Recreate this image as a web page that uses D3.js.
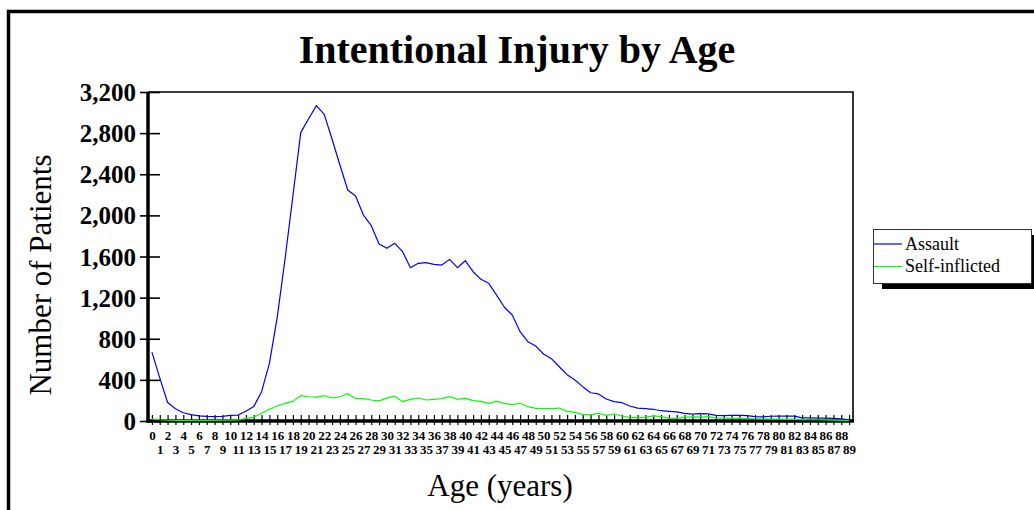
<!DOCTYPE html>
<html>
<head>
<meta charset="utf-8">
<script src="https://cdn.jsdelivr.net/npm/d3@7"></script>
<style>
  html, body { margin: 0; padding: 0; background: #fff; }
  svg { display: block; }
  text { font-family: "Liberation Serif", "Times New Roman", serif; fill: #000; }
</style>
</head>
<body>
<svg id="chart" width="1034" height="510"></svg>
<script>
// Age categories (years)
const ages = [0,1,2,3,4,5,6,7,8,9,10,11,12,13,14,15,16,17,18,19,20,21,22,23,24,25,26,27,28,29,
  30,31,32,33,34,35,36,37,38,39,40,41,42,43,44,45,46,47,48,49,50,51,52,53,54,55,56,57,58,59,
  60,61,62,63,64,65,66,67,68,69,70,71,72,73,74,75,76,77,78,79,80,81,82,83,84,85,86,87,88,89];

// Number of patients per age
const assault = [670,420,180,120,80,62,50,45,42,45,55,58,95,140,285,560,1010,1580,2190,2805,
  2940,3067,2983,2740,2490,2247,2188,2003,1900,1722,1680,1728,1647,1491,1534,1540,1524,1517,1572,1491,
  1559,1452,1378,1339,1225,1106,1031,869,771,729,652,606,528,451,399,334,275,263,214,188,
  178,146,126,120,114,100,94,88,75,66,72,70,55,52,54,55,52,42,40,46,
  48,48,47,30,30,28,27,25,20,12];

const selfInflicted = [20,12,8,7,6,6,6,6,7,8,9,10,26,36,75,114,146,172,191,246,
  236,233,246,224,236,266,217,217,204,196,222,243,188,211,224,204,211,217,237,211,
  220,198,191,172,191,172,159,172,139,123,120,120,126,94,84,62,62,75,55,68,
  49,32,32,36,49,42,26,26,35,40,38,42,30,28,25,25,24,22,20,18,
  18,16,16,14,12,12,10,8,6,4];

const yTicks = [0,400,800,1200,1600,2000,2400,2800,3200];
const seriesNames = ["Assault", "Self-inflicted"];
const seriesColors = ["#0000ff", "#00ff00"];

const svg = d3.select("#chart");
const W = 1034, H = 510;
const plot = { left: 148, right: 853, top: 92, bottom: 421 };

svg.append("rect").attr("width", W).attr("height", H).attr("fill", "#fff");

// outer frame
svg.append("rect")
  .attr("x", 8.5).attr("y", 11.5)
  .attr("width", 1200).attr("height", 700)
  .attr("fill", "none").attr("stroke", "#000").attr("stroke-width", 3.5);

// title
svg.append("text")
  .attr("x", 517).attr("y", 63)
  .attr("text-anchor", "middle")
  .style("font-size", "40px").style("font-weight", "bold")
  .text("Intentional Injury by Age");

const x = d3.scalePoint().domain(ages).range([plot.left, plot.right]).padding(0.5);
const y = d3.scaleLinear().domain([0, 3200]).range([plot.bottom, plot.top]);

// plot frame (top and right)
svg.append("path")
  .attr("d", `M${plot.left},${plot.top}H${plot.right}V${plot.bottom}`)
  .attr("fill", "none").attr("stroke", "#000").attr("stroke-width", 1.6);

// y axis
const yAxis = svg.append("g")
  .attr("transform", `translate(${plot.left},0)`)
  .call(d3.axisLeft(y).tickValues(yTicks).tickFormat(d3.format(",")).tickSizeOuter(0));
yAxis.select(".domain").remove();
yAxis.selectAll(".tick line").attr("x1", 12).attr("x2", -8).attr("stroke", "#000").attr("stroke-width", 1.6);
yAxis.selectAll(".tick text")
  .attr("x", -12).attr("dy", "0.34em")
  .style("font-family", "'Liberation Serif', serif")
  .style("font-size", "25px").style("font-weight", "bold").attr("fill", "#000");
svg.append("line")
  .attr("x1", plot.left).attr("x2", plot.left)
  .attr("y1", plot.top).attr("y2", plot.bottom + 1.5)
  .attr("stroke", "#000").attr("stroke-width", 3.5);

// x axis
const xAxis = svg.append("g")
  .attr("transform", `translate(0,${plot.bottom})`)
  .call(d3.axisBottom(x).tickSizeOuter(0));
xAxis.select(".domain").remove();
xAxis.selectAll(".tick line").attr("y1", -6).attr("y2", 4).attr("stroke", "#000").attr("stroke-width", 1.2);
xAxis.selectAll(".tick text")
  .attr("y", d => (d % 2 === 0 ? 18.5 : 32.5)).attr("dy", 0)
  .style("font-family", "'Liberation Serif', serif")
  .style("font-size", "13px").style("font-weight", "bold").attr("fill", "#000");
svg.append("line")
  .attr("x1", plot.left - 1.7).attr("x2", plot.right + 1)
  .attr("y1", plot.bottom).attr("y2", plot.bottom)
  .attr("stroke", "#000").attr("stroke-width", 3.5);

// axis titles
svg.append("text")
  .attr("transform", "translate(51,275) rotate(-90)")
  .attr("text-anchor", "middle")
  .style("font-size", "31px")
  .text("Number of Patients");
svg.append("text")
  .attr("x", 500).attr("y", 496)
  .attr("text-anchor", "middle")
  .style("font-size", "31px")
  .text("Age (years)");

// series lines
const line = d3.line().x((d, i) => x(ages[i])).y(d => y(d));
[assault, selfInflicted].forEach((vals, k) => {
  svg.append("path")
    .datum(vals)
    .attr("d", line)
    .attr("fill", "none")
    .attr("stroke", seriesColors[k])
    .attr("stroke-width", 1.2)
    .attr("stroke-linejoin", "round");
});

// legend
const lg = { x: 873, y: 229, w: 158, h: 54 };
svg.append("rect")
  .attr("x", lg.x + 9).attr("y", lg.y + 6)
  .attr("width", lg.w).attr("height", lg.h)
  .attr("fill", "#000");
svg.append("rect")
  .attr("x", lg.x + 0.5).attr("y", lg.y + 0.5)
  .attr("width", lg.w).attr("height", lg.h)
  .attr("fill", "#fff").attr("stroke", "#333").attr("stroke-width", 1);
seriesNames.forEach((name, k) => {
  const cy = lg.y + 15 + k * 22.5;
  svg.append("line")
    .attr("x1", lg.x + 1).attr("x2", lg.x + 29)
    .attr("y1", cy).attr("y2", cy)
    .attr("stroke", seriesColors[k]).attr("stroke-width", 1.2);
  svg.append("text")
    .attr("x", lg.x + 32).attr("y", cy + 5.5)
    .style("font-size", "18px")
    .text(name);
});
</script>
</body>
</html>
